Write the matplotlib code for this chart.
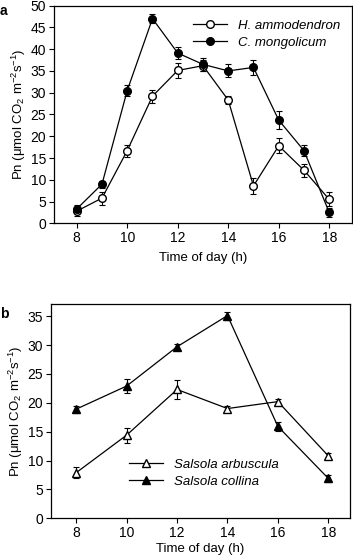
import matplotlib
matplotlib.use("Agg")
import matplotlib.pyplot as plt

plt.rcParams['font.family'] = ['Liberation Sans', 'DejaVu Sans']
plt.rcParams['mathtext.fontset'] = 'custom'
plt.rcParams['mathtext.rm'] = 'Liberation Sans'
plt.rcParams['mathtext.it'] = 'Liberation Sans:italic'

# panel a
hours_a = [8, 9, 10, 11, 12, 13, 14, 15, 16, 17, 18]
ham = [2.8, 5.8, 16.7, 29.2, 35.1, 36.2, 28.3, 8.6, 17.8, 12.2, 5.5]
ham_err = [1.0, 1.5, 1.4, 1.5, 1.8, 1.2, 1.0, 1.8, 1.7, 1.5, 1.6]
cmo = [3.3, 9.0, 30.5, 47.0, 39.1, 36.5, 35.0, 35.8, 23.7, 16.7, 2.5]
cmo_err = [0.8, 0.8, 1.2, 1.0, 1.4, 1.5, 1.5, 1.8, 2.0, 1.2, 1.0]

# panel b
hours_b = [8, 10, 12, 14, 16, 18]
sarb = [7.9, 14.4, 22.3, 19.0, 20.2, 10.8]
sarb_err = [0.9, 1.3, 1.7, 0.5, 0.5, 0.5]
scol = [18.9, 22.9, 29.7, 35.1, 15.9, 6.9]
scol_err = [0.6, 1.2, 0.5, 0.7, 0.8, 0.6]

ylab = 'Pn (μmol CO$_2$ m$^{-2}$s$^{-1}$)'

fig = plt.figure(figsize=(3.53, 5.57), dpi=100)
ax1 = fig.add_axes([0.153, 0.599, 0.844, 0.391])
ax2 = fig.add_axes([0.1445, 0.0695, 0.847, 0.3847])

def series(ax, x, y, e, marker, fc, label):
    ax.errorbar(x, y, yerr=e, fmt='none', ecolor='black',
                elinewidth=0.8, capsize=2.2, capthick=0.8)
    line, = ax.plot(x, y, color='black', marker=marker, markerfacecolor=fc,
                    markeredgecolor='black', markersize=5.5, linewidth=0.9,
                    label=label)
    return line

series(ax1, hours_a, ham, ham_err, 'o', 'white', 'H. ammodendron')
series(ax1, hours_a, cmo, cmo_err, 'o', 'black', 'C. mongolicum')
ax1.set_xlim(7.1, 18.9)
ax1.set_ylim(0, 50)
ax1.set_xticks([8, 10, 12, 14, 16, 18])
ax1.set_yticks(range(0, 51, 5))
ax1.set_xlabel('Time of day (h)', fontsize=9.5, labelpad=5)
ax1.set_ylabel(ylab, fontsize=9.5, labelpad=2)
ax1.legend(loc='upper right', bbox_to_anchor=(1.0, 0.99), frameon=False,
           prop={'style': 'italic', 'size': 9.5}, handlelength=2.6,
           handletextpad=0.8, labelspacing=0.35)

series(ax2, hours_b, sarb, sarb_err, '^', 'white', 'Salsola arbuscula')
series(ax2, hours_b, scol, scol_err, '^', 'black', 'Salsola collina')
ax2.set_xlim(7.0, 18.86)
ax2.set_ylim(0, 37.1)
ax2.set_xticks([8, 10, 12, 14, 16, 18])
ax2.set_yticks(range(0, 36, 5))
ax2.set_xlabel('Time of day (h)', fontsize=9.5, labelpad=2)
ax2.set_ylabel(ylab, fontsize=9.5, labelpad=2)
ax2.legend(loc='center left', bbox_to_anchor=(0.22, 0.21), frameon=False,
           prop={'style': 'italic', 'size': 9.5}, handlelength=2.6,
           handletextpad=0.8, labelspacing=0.35)

for ax in (ax1, ax2):
    ax.tick_params(direction='out', length=3.5, width=0.8, labelsize=10, pad=2)
    for s in ax.spines.values():
        s.set_linewidth(0.9)

fig.text(0.0, 0.993, 'a', fontsize=10, fontweight='bold', va='top')
fig.text(0.0, 0.448, 'b', fontsize=10, fontweight='bold', va='top')

fig.savefig('out.png', dpi=100)
